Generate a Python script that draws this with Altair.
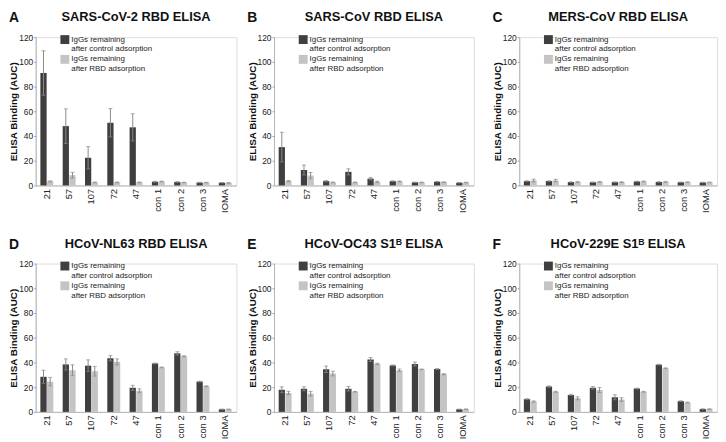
import altair as alt
import pandas as pd

SAMPLES = ["21", "57", "107", "72", "47", "con 1", "con 2", "con 3", "IOMA"]
SERIES = ["IgGs remaining\nafter control adsorption", "IgGs remaining\nafter RBD adsorption"]
COLORS = ["#3f3f3f", "#c4c4c4"]
ERR_COLOR = "#8a8a8a"

LETTERS = ["A", "B", "C", "D", "E", "F"]
TITLES = ["SARS-CoV-2 RBD ELISA", "SARS-CoV RBD ELISA", "MERS-CoV RBD ELISA",
          "HCoV-NL63 RBD ELISA", "HCoV-OC43 S1ᴮ ELISA", "HCoV-229E S1ᴮ ELISA"]
Y_TICKS = [0, 20, 40, 60, 80, 100, 120]

# Panel A: SARS-CoV-2 RBD
A_CTRL = [91, 48, 22.4, 50.7, 47, 3.0, 2.8, 2.3, 2.2]
A_CTRL_ERR = [18, 14, 9, 11.5, 11, 0.3, 0.3, 0.2, 0.2]
A_RBD = [3.3, 8.3, 2.5, 2.5, 2.5, 3.2, 2.4, 2.3, 2.1]
A_RBD_ERR = [0.4, 2.3, 0.3, 0.3, 0.3, 0.3, 0.2, 0.2, 0.2]
# Panel B: SARS-CoV RBD
B_CTRL = [31, 12.5, 3.5, 11, 5.5, 3.5, 2.5, 3.0, 2.2]
B_CTRL_ERR = [12, 4, 0.5, 2.5, 1.0, 0.3, 0.2, 0.2, 0.2]
B_RBD = [3.5, 8, 2.5, 2.5, 3.0, 3.3, 2.5, 2.7, 2.4]
B_RBD_ERR = [0.5, 2.5, 0.3, 0.3, 0.5, 0.3, 0.2, 0.2, 0.2]
# Panel C: MERS-CoV RBD
C_CTRL = [3.5, 3.5, 2.7, 2.6, 2.7, 3.2, 2.8, 2.6, 2.4]
C_CTRL_ERR = [0.3, 0.3, 0.2, 0.2, 0.2, 0.2, 0.2, 0.2, 0.2]
C_RBD = [4.0, 4.0, 2.8, 2.9, 2.7, 3.3, 2.9, 2.7, 2.5]
C_RBD_ERR = [1.1, 1.0, 0.3, 0.3, 0.3, 0.3, 0.2, 0.2, 0.2]
# Panel D: HCoV-NL63 RBD
D_CTRL = [28.4, 38.4, 37.4, 43.4, 19.5, 39.2, 47.4, 24.5, 2.1]
D_CTRL_ERR = [5.3, 4.5, 4.7, 2.1, 2.0, 0.3, 1.3, 0.3, 0.2]
D_RBD = [24.5, 33.7, 32.9, 40.5, 17.1, 36.0, 45.0, 20.8, 2.1]
D_RBD_ERR = [3.4, 4.4, 3.9, 2.4, 1.6, 0.3, 0.4, 0.3, 0.2]
# Panel E: HCoV-OC43 S1B
E_CTRL = [17.9, 18.7, 34.5, 18.7, 42.4, 37.6, 38.7, 34.7, 2.1]
E_CTRL_ERR = [2.4, 1.6, 2.6, 1.8, 1.6, 0.4, 1.6, 0.4, 0.2]
E_RBD = [15.3, 14.7, 31.0, 16.3, 38.9, 33.7, 34.5, 30.5, 2.2]
E_RBD_ERR = [1.3, 1.9, 1.9, 0.2, 0.5, 1.0, 0.2, 0.5, 0.2]
# Panel F: HCoV-229E S1B
F_CTRL = [10.3, 20.5, 13.7, 19.5, 11.8, 18.9, 38.2, 8.7, 2.3]
F_CTRL_ERR = [0.4, 0.5, 0.5, 1.0, 2.0, 0.3, 0.3, 0.3, 0.2]
F_RBD = [8.4, 16.3, 11.0, 17.7, 10.0, 16.3, 35.3, 7.6, 2.3]
F_RBD_ERR = [0.5, 0.4, 1.2, 2.0, 1.5, 0.3, 0.3, 0.3, 0.2]

PANELS = [
    (A_CTRL, A_CTRL_ERR, A_RBD, A_RBD_ERR),
    (B_CTRL, B_CTRL_ERR, B_RBD, B_RBD_ERR),
    (C_CTRL, C_CTRL_ERR, C_RBD, C_RBD_ERR),
    (D_CTRL, D_CTRL_ERR, D_RBD, D_RBD_ERR),
    (E_CTRL, E_CTRL_ERR, E_RBD, E_RBD_ERR),
    (F_CTRL, F_CTRL_ERR, F_RBD, F_RBD_ERR),
]
WIDTHS = [203, 202, 200, 203, 202, 200]
PLOT_H = 150

FONT = "Liberation Sans, Arial, Helvetica, sans-serif"


def panel(i):
    ctrl, ctrl_err, rbd, rbd_err = PANELS[i]
    df = pd.DataFrame({
        "sample": SAMPLES * 2,
        "series": [SERIES[0]] * len(SAMPLES) + [SERIES[1]] * len(SAMPLES),
        "value": ctrl + rbd,
        "err": ctrl_err + rbd_err,
    })
    base = alt.Chart(df).transform_calculate(
        lo="datum.value - datum.err", hi="datum.value + datum.err"
    )
    x = alt.X("sample:N", sort=SAMPLES,
              scale=alt.Scale(paddingInner=0.42, paddingOuter=0.21),
              axis=alt.Axis(title=None, labelAngle=-90, labelFont=FONT, labelFontSize=9.5,
                            labelPadding=3, ticks=False, domainColor="#b5b5b5",
                            labelColor="#222222"))
    xo = alt.XOffset("series:N", sort=SERIES,
                     scale=alt.Scale(domain=SERIES, paddingInner=0.06))
    yscale = alt.Scale(domain=[0, 120], nice=False)
    yaxis = alt.Axis(title="ELISA Binding (AUC)", values=Y_TICKS, grid=False,
                     tickSize=2, tickColor="#9a9a9a", domainColor="#b5b5b5",
                     labelFont=FONT, labelFontSize=8.5, labelPadding=1,
                     labelColor="#222222", titleFont=FONT, titleFontSize=10,
                     titleFontWeight="bold", titleColor="#111111",
                     minExtent=16, maxExtent=16, titlePadding=1)
    bars = base.mark_bar().encode(
        x=x, xOffset=xo,
        y=alt.Y("value:Q", scale=yscale, axis=yaxis),
        color=alt.Color("series:N", scale=alt.Scale(domain=SERIES, range=COLORS),
                        legend=alt.Legend(orient="none", legendX=25, legendY=-2, title=None,
                                          symbolType="square", symbolSize=81,
                                          symbolStrokeWidth=0, labelFont=FONT,
                                          labelFontSize=8, labelOffset=2, labelLimit=0,
                                          labelExpr="split(datum.label, '\\n')",
                                          rowPadding=1, padding=0, labelColor="#222222")),
    )
    rules = base.mark_rule(color=ERR_COLOR, strokeWidth=1).encode(
        x=x, xOffset=xo,
        y=alt.Y("lo:Q", scale=yscale, axis=yaxis), y2="hi:Q",
    )
    cap_hi = base.mark_tick(color=ERR_COLOR, thickness=1, size=4).encode(
        x=x, xOffset=xo, y=alt.Y("hi:Q", scale=yscale, axis=yaxis))
    cap_lo = base.mark_tick(color=ERR_COLOR, thickness=1, size=4).encode(
        x=x, xOffset=xo, y=alt.Y("lo:Q", scale=yscale, axis=yaxis))
    letter = alt.Chart(pd.DataFrame({"t": [LETTERS[i]]})).mark_text(
        font=FONT, fontSize=14, fontWeight="bold", align="left", baseline="alphabetic",
        color="#111111",
    ).encode(x=alt.value(-27), y=alt.value(-15), text="t:N")
    return alt.layer(bars, rules, cap_hi, cap_lo, letter).properties(
        width=WIDTHS[i], height=PLOT_H,
        title=alt.TitleParams(TITLES[i], font=FONT, fontSize=13, fontWeight="bold",
                              anchor="middle", offset=-13, color="#111111"),
    )


def row(a, b, c):
    inner = alt.hconcat(panel(a), panel(b), spacing=9).resolve_scale(
        color="independent").resolve_legend(color="independent")
    return alt.hconcat(inner, panel(c), spacing=17).resolve_scale(
        color="independent").resolve_legend(color="independent")


chart = alt.vconcat(
    row(0, 1, 2), row(3, 4, 5), spacing=24, padding=0,
).resolve_scale(color="independent").resolve_legend(color="independent").configure_view(
    stroke=None).configure(background="white")

chart.save("out.html", embed_options={"renderer": "svg", "actions": False})
